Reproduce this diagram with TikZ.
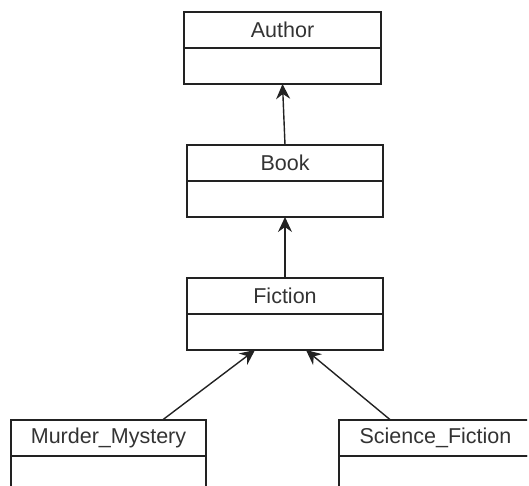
\documentclass[tikz,border=0pt]{standalone}
\usepackage{fontspec}
\setmainfont{Liberation Sans}
\usetikzlibrary{arrows.meta}
\definecolor{umlline}{HTML}{222222}
\definecolor{umltext}{HTML}{333333}
\begin{document}
\begin{tikzpicture}[x=1pt,y=-1pt,
  classhead/.style={draw=umlline, line width=1.4pt, rectangle, anchor=north west,
    minimum height=36pt, inner sep=0pt, outer sep=0pt, text=umltext,
    font=\fontsize{21.5}{24}\selectfont},
  classbody/.style={draw=umlline, line width=1.4pt, rectangle, anchor=north,
    minimum height=36pt, inner sep=0pt, outer sep=0pt},
  inherit/.style={draw=umlline, line width=1.4pt,
    -{Stealth[length=15pt,width=14pt,inset=5pt]}}]
  \useasboundingbox (0,0) rectangle (529,486);
  \clip (0,0) rectangle (527,486);

  % class boxes: name compartment with an empty compartment below
  \node[classhead, minimum width=197pt] (author) at (184,12) {Author};
  \node[classbody, minimum width=197pt] (author-body) at (author.south) {};

  \node[classhead, minimum width=196pt] (book) at (187,145) {Book};
  \node[classbody, minimum width=196pt] (book-body) at (book.south) {};

  \node[classhead, minimum width=196pt] (fiction) at (187,278) {Fiction};
  \node[classbody, minimum width=196pt] (fiction-body) at (fiction.south) {};

  \node[classhead, minimum width=195pt] (murder) at (11,420) {Murder\_Mystery};
  \node[classbody, minimum width=195pt] (murder-body) at (murder.south) {};

  % this class runs past the right edge of the sheet
  \node[classhead, minimum width=193pt] (scifi) at (339,420) {Science\_Fiction};
  \node[classbody, minimum width=193pt] (scifi-body) at (scifi.south) {};

  % generalisation links
  \draw[inherit] (book.north) -- (author-body.south);
  \draw[inherit] (fiction.north) -- (book-body.south);
  \draw[inherit] ([xshift=54pt]murder.north) -- ([xshift=-30pt]fiction-body.south);
  \draw[inherit] ([xshift=-45pt]scifi.north) -- ([xshift=21pt]fiction-body.south);
\end{tikzpicture}
\end{document}
